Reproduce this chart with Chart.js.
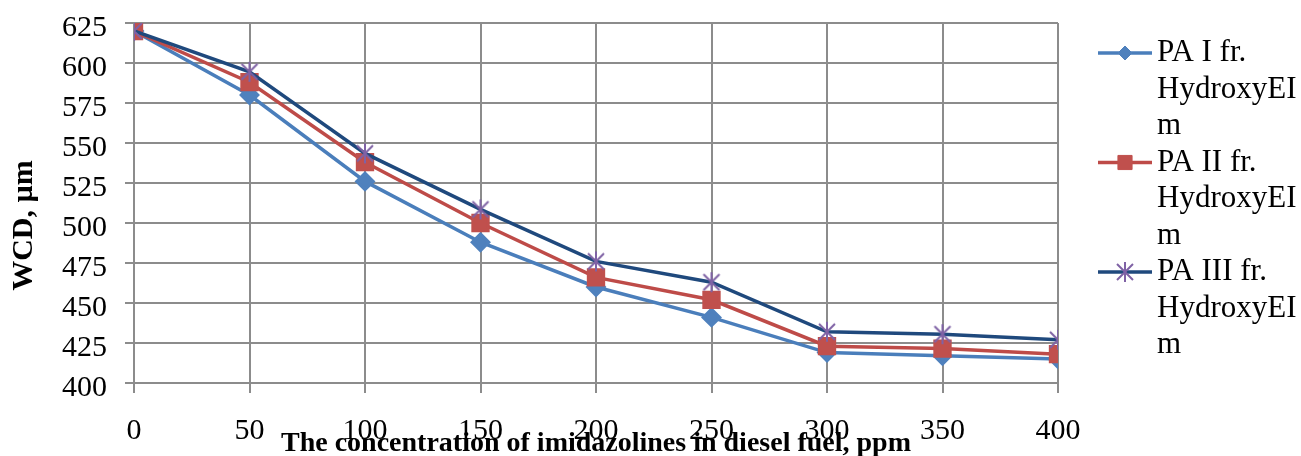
<!DOCTYPE html>
<html>
<head>
<meta charset="utf-8">
<script src="https://cdn.jsdelivr.net/npm/chart.js@4/dist/chart.umd.min.js"></script>
<style>
  html, body { margin: 0; padding: 0; background: #fff; }
  #wrap { width: 1301px; height: 456px; }
</style>
</head>
<body>
<div id="wrap"><canvas id="wcdChart" width="1301" height="456"></canvas></div>
<script>
// chart data
const concentrations = [0, 50, 100, 150, 200, 250, 300, 350, 400];
const paOne = [620, 580, 526, 488, 460, 441, 419, 417, 415];
const paTwo = [620, 588, 538, 500, 466, 452, 423, 421.5, 418];
const paThree = [620, 594.5, 543.5, 508.5, 476, 463, 432, 430.5, 427];
const seriesNames = ['PA I fr. HydroxyEIm', 'PA II fr. HydroxyEIm', 'PA III fr. HydroxyEIm'];
const xTitle = 'The concentration of imidazolines in diesel fuel, ppm';
const yTitle = 'WCD, µm';
const yMin = 400, yMax = 625, yStep = 25;
const xMin = 0, xMax = 400, xStep = 50;

const serif = '"Liberation Serif", "Times New Roman", serif';

// six-armed star like the office marker
function makeStar(color) {
  const c = document.createElement('canvas');
  c.width = 22;
  c.height = 22;
  const g = c.getContext('2d');
  g.strokeStyle = color;
  g.lineWidth = 2;
  g.beginPath();
  g.moveTo(3, 3); g.lineTo(19, 19);
  g.moveTo(19, 3); g.lineTo(3, 19);
  g.moveTo(11, 1); g.lineTo(11, 21);
  g.stroke();
  return c;
}

function toPoints(values) {
  return concentrations.map((c, i) => ({ x: c, y: values[i] }));
}

// break words (and too-long words) to fit a width
function wrapText(ctx, text, maxWidth) {
  const lines = [];
  let current = '';
  text.split(' ').forEach(word => {
    const tryLine = current ? current + ' ' + word : word;
    if (ctx.measureText(tryLine).width <= maxWidth) {
      current = tryLine;
      return;
    }
    if (current) lines.push(current);
    current = '';
    let piece = '';
    for (const ch of word) {
      if (ctx.measureText(piece + ch).width > maxWidth && piece) {
        lines.push(piece);
        piece = ch;
      } else {
        piece += ch;
      }
    }
    current = piece;
  });
  if (current) lines.push(current);
  return lines;
}

const sideLegend = {
  id: 'sideLegend',
  afterDraw(chart) {
    const ctx = chart.ctx;
    const lineX0 = 1098, lineX1 = 1152, textX = 1157, step = 36.5;
    let y = 53;
    ctx.save();
    ctx.font = '31px ' + serif;
    chart.data.datasets.forEach(ds => {
      const lines = wrapText(ctx, ds.label, chart.width - textX - 2);
      ctx.strokeStyle = ds.borderColor;
      ctx.lineWidth = 3.5;
      ctx.beginPath();
      ctx.moveTo(lineX0, y);
      ctx.lineTo(lineX1, y);
      ctx.stroke();

      const mx = (lineX0 + lineX1) / 2;
      if (ds.pointStyle instanceof HTMLCanvasElement) {
        ctx.drawImage(ds.pointStyle, mx - ds.pointStyle.width / 2, y - ds.pointStyle.height / 2);
      } else {
        ctx.fillStyle = ds.pointBackgroundColor;
        ctx.strokeStyle = ds.pointBorderColor;
        ctx.lineWidth = 1;
        Chart.helpers.drawPoint(ctx, { pointStyle: ds.pointStyle, rotation: 0, radius: ds.legendRadius, borderWidth: 1 }, mx, y);
      }

      ctx.fillStyle = '#000';
      ctx.textAlign = 'left';
      ctx.textBaseline = 'middle';
      lines.forEach((t, i) => ctx.fillText(t, textX, y + i * step));
      y += lines.length * step;
    });
    ctx.restore();
  }
};

document.addEventListener('DOMContentLoaded', () => {
  const ctx = document.getElementById('wcdChart').getContext('2d');
  const gridColor = '#8c8c8c';

  new Chart(ctx, {
    type: 'line',
    data: {
      datasets: [
        {
          label: seriesNames[0],
          data: toPoints(paOne),
          borderColor: '#4A7EBB',
          borderWidth: 3.5,
          pointStyle: 'rectRot',
          pointRadius: 8,
          legendRadius: 7,
          pointBackgroundColor: '#4F81BD',
          pointBorderColor: '#4F81BD',
          order: 2,
        },
        {
          label: seriesNames[1],
          data: toPoints(paTwo),
          borderColor: '#BE4B48',
          borderWidth: 3.5,
          pointStyle: 'rect',
          pointRadius: 10.5,
          legendRadius: 10,
          pointBackgroundColor: '#C0504D',
          pointBorderColor: '#C0504D',
          order: 1,
        },
        {
          label: seriesNames[2],
          data: toPoints(paThree),
          borderColor: '#1F497D',
          borderWidth: 3.5,
          pointStyle: makeStar('#7F62A5'),
          order: 0,
        },
      ],
    },
    options: {
      responsive: false,
      animation: false,
      layout: { padding: { left: 0, top: 23, right: 243, bottom: 0 } },
      plugins: {
        legend: { display: false },
        tooltip: { enabled: false },
      },
      scales: {
        x: {
          type: 'linear',
          min: xMin,
          max: xMax,
          afterFit: scale => {
            scale.height = 73;
            scale.paddingLeft = 0;
            scale.paddingRight = 0;
          },
          ticks: {
            stepSize: xStep,
            color: '#000',
            padding: 20,
            font: { family: serif, size: 30 },
          },
          grid: { color: gridColor, lineWidth: 2, tickLength: 10 },
          border: { color: gridColor, width: 2 },
          title: {
            display: true,
            text: xTitle,
            color: '#000',
            padding: 0,
            font: { family: serif, size: 28, weight: 'bold', lineHeight: 0.85 },
          },
        },
        y: {
          min: yMin,
          max: yMax,
          afterFit: scale => {
            scale.width = 134;
            scale.paddingTop = 0;
            scale.paddingBottom = 0;
          },
          ticks: {
            stepSize: yStep,
            color: '#000',
            padding: 18,
            labelOffset: 5,
            font: { family: serif, size: 30 },
          },
          grid: { color: gridColor, lineWidth: 2, tickLength: 9 },
          border: { color: gridColor, width: 2 },
          title: {
            display: true,
            text: yTitle + '      ',
            color: '#000',
            padding: { top: 6, bottom: 0 },
            font: { family: serif, size: 30, weight: 'bold' },
          },
        },
      },
    },
    plugins: [sideLegend],
  });
});
</script>
</body>
</html>
